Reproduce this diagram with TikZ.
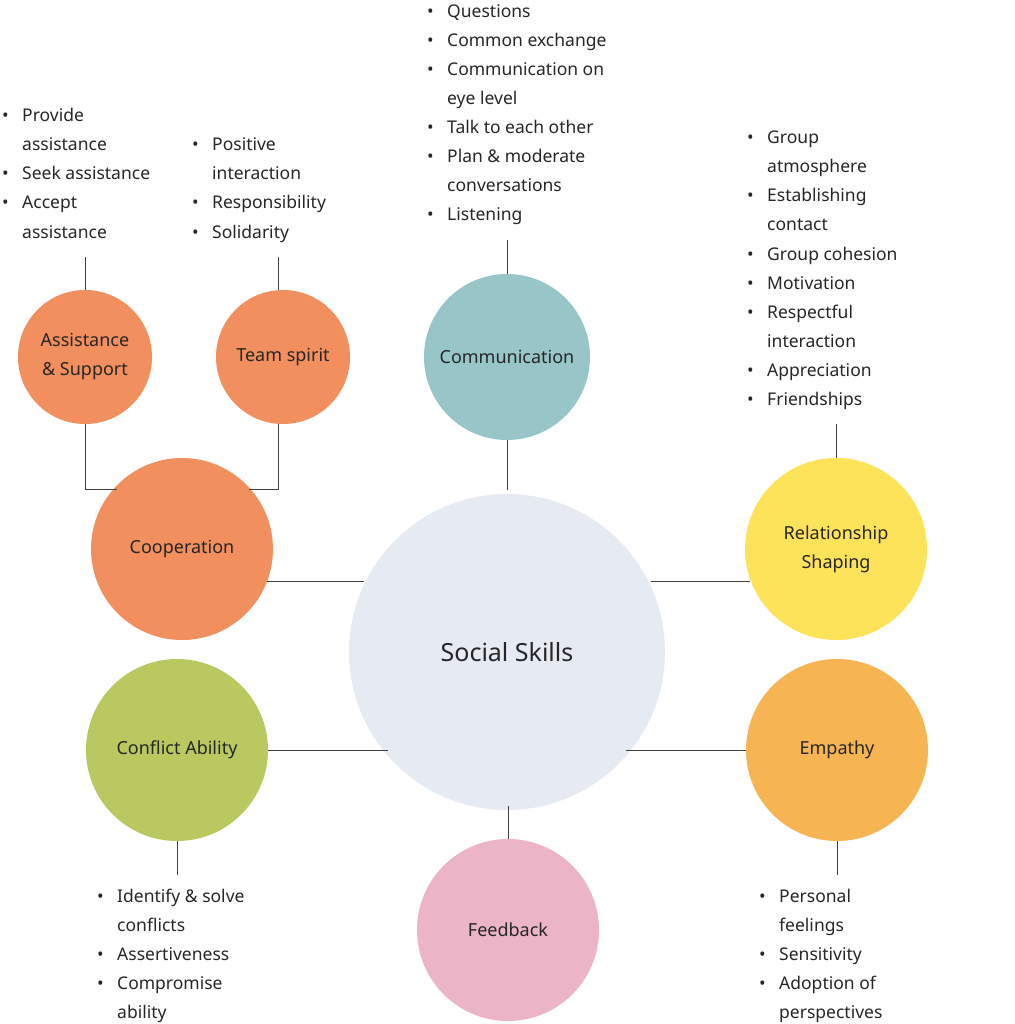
\documentclass[tikz,border=0pt]{standalone}
\usepackage{fontspec}
\setmainfont{Noto Sans}
\definecolor{orng}{HTML}{F28F5E}
\definecolor{teal}{HTML}{97C5C8}
\definecolor{yell}{HTML}{FCE35A}
\definecolor{gree}{HTML}{B9C95F}
\definecolor{lorg}{HTML}{F6B552}
\definecolor{pink}{HTML}{ECB4C7}
\definecolor{cent}{HTML}{E6EAF3}
\begin{document}
\begin{tikzpicture}[x=1pt,y=-1pt,
  bub/.style={circle,inner sep=0pt,align=center,font=\fontsize{18}{29}\selectfont,text=black!85},
  txt/.style={anchor=base west,inner sep=0pt,font=\fontsize{17.5}{20}\selectfont,text=black!85},
  ln/.style={draw=black!75,line width=0.7pt}]
\useasboundingbox (0,0) rectangle (1014,1024);
\node[bub,fill=cent,minimum size=316pt,font=\fontsize{25}{30}\selectfont] (ss) at (507,652) {Social Skills};
\node[bub,fill=teal,minimum size=166pt] (com) at (507,357) {Communication};
\node[bub,fill=orng,minimum size=182pt] (coop) at (182,549) {Cooperation};
\node[bub,fill=orng,minimum size=134pt] (as) at (85,357) {Assistance\\ \& Support};
\node[bub,fill=orng,minimum size=134pt] (ts) at (283,357) {Team spirit};
\node[bub,fill=yell,minimum size=182pt] (rel) at (836,549) {Relationship\\ Shaping};
\node[bub,fill=gree,minimum size=182pt] (con) at (177,750) {Conflict Ability};
\node[bub,fill=lorg,minimum size=182pt] (emp) at (837,750) {Empathy};
\node[bub,fill=pink,minimum size=182pt] (fb) at (508,930) {Feedback};
\coordinate (c1) at (85,257); \coordinate (c2) at (278,257);
\coordinate (c3) at (507,240); \coordinate (c4) at (836,424);
\coordinate (c5) at (177,875); \coordinate (c6) at (837,875);
\draw[ln] (com.south) -- (507,490);
\draw[ln] (508,806) -- (fb.north);
\draw[ln] (267,581) -- (364,581);
\draw[ln] (651,581) -- (750,581);
\draw[ln] (con.east) -- (388,750);
\draw[ln] (626,750) -- (emp.west);
\draw[ln] (c1) -- (as.north);
\draw[ln] (c2) -- (278,290);
\draw[ln] (c3) -- (com.north);
\draw[ln] (c4) -- (rel.north);
\draw[ln] (c5) -- (con.south);
\draw[ln] (c6) -- (emp.south);
\draw[ln] (as.south) -- (85,489) -- (117,489);
\draw[ln] (278,424) -- (278,489) -- (249,489);
\newcommand{\blist}[4]{%
 \foreach \t/\b [count=\i] in {#4} {
   \node[txt] (#1-\i) at (#2+16,#3+29*\i-23) {\t};
   \ifnum\b=1 \node[txt] (#1b-\i) at (#2-4,#3+29*\i-23) {•};\fi
 }}
\blist{la}{6}{116}{Provide/1,assistance/0,Seek assistance/1,Accept/1,assistance/0}
\blist{lb}{196}{145}{Positive/1,interaction/0,Responsibility/1,Solidarity/1}
\blist{lc}{431}{12}{Questions/1,Common exchange/1,Communication on/1,eye level/0,Talk to each other/1,Plan \& moderate/1,conversations/0,Listening/1}
\blist{ld}{751}{138}{Group/1,atmosphere/0,Establishing/1,contact/0,Group cohesion/1,Motivation/1,Respectful/1,interaction/0,Appreciation/1,Friendships/1}
\blist{le}{101}{896}{Identify \& solve/1,conflicts/0,Assertiveness/1,Compromise/1,ability/0}
\blist{lf}{763}{896}{Personal/1,feelings/0,Sensitivity/1,Adoption of/1,perspectives/0}
\end{tikzpicture}
\end{document}
